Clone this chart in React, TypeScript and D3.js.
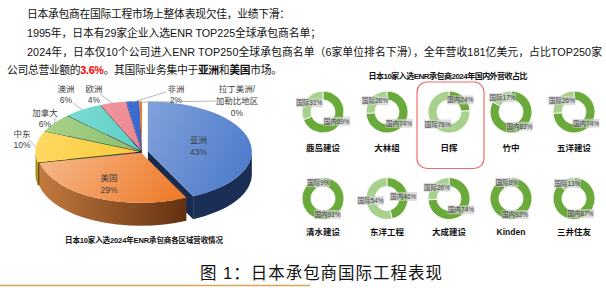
import React from 'react';
import * as d3 from 'd3';

// ---------- data ----------
const regionNames = ['亚洲', '美国', '中东', '加拿大', '澳洲', '欧洲', '非洲', '拉丁美洲/加勒比地区'];
const regionShares = [43, 29, 10, 6, 6, 4, 2, 0.4];

const companies = ['鹿岛建设', '大林组', '日挥', '竹中', '五洋建设', '清水建设', '东洋工程', '大成建设', 'Kinden', '三井住友'];
const domesticShare = [69, 74, 24, 83, 74, 91, 46, 74, 92, 87];
const internationalShare = [31, 26, 76, 17, 26, 9, 54, 26, 8, 13];
const highlightCompany = '日挥';

const pieTitle = '日本10家入选2024年ENR承包商各区域营收情况';
const donutTitle = '日本10家入选ENR承包商2024年国内外营收占比';
const caption = '图 1：日本承包商国际工程表现';

// ---------- layout / style ----------
const FONT = '"Liberation Sans", "Noto Sans CJK SC", Arial, sans-serif';
const PIE = { cx: 142, cy: 152, rx: 104, ry: 50, depth: 23 };
const explode = [6, 2, 2.5, 2.5, 2.5, 2.5, 2, 1.5];
const topColors = [
  ['#a9c0ea', '#4a78c8'],
  ['#f8c9a4', '#ee7d2e'],
  ['#ffdc6a', '#f2b705'],
  ['#acd490', '#6aa843'],
  ['#84e2da', '#33b5aa'],
  ['#f5a8b0', '#e2606e'],
  ['#4a7be0', '#2450b8'],
  ['#f58a3c', '#e86a1a'],
];
const topGradEnd = [1, 0.25, 1, 1, 1, 1, 1, 1];
const wallColors = [
  ['#2f4c84', '#1b2f56'],
  ['#c47a40', '#5e2d0e'],
  ['#a88a10', '#6e5a00'],
  ['#4d7a2e', '#3a5e22'],
  ['#238079', '#1a605b'],
  ['#a3404c', '#7a2c36'],
  ['#1a3a80', '#132c60'],
  ['#a04a10', '#80380a'],
];
const labelLayout: any[] = [
  { inside: true, frac: 0.5 },
  { inside: true, frac: 0.7 },
  { x: 22, y: 134, from: [29, 140] },
  { x: 45, y: 113, from: [55, 118] },
  { x: 66, y: 89, from: [73, 103] },
  { x: 94, y: 89, from: [100, 94] },
  { x: 176, y: 89, from: [166, 92] },
  { x: 237, y: 89, from: [216, 101] },
];

const donutXs = [323, 387, 449, 511, 574];
const donutRowY = [112, 198.5];
const donutLabelY = [148, 232];
const R_OUT = 21;
const R_IN = 12;
const DOM_COLOR = '#6aaa3b';
const INTL_COLOR = '#a9d18e';

function pt(a: number, dx: number, dy: number, z = 0): [number, number] {
  return [PIE.cx + dx + PIE.rx * Math.sin(a), PIE.cy + dy - PIE.ry * Math.cos(a) + z];
}
const f = (p: [number, number]) => `${p[0].toFixed(2)},${p[1].toFixed(2)}`;

export default function App() {
  const pie = d3.pie<number>().sort(null).value((d) => d).startAngle(0).endAngle(2 * Math.PI);
  const arcs = pie(regionShares);
  const total = d3.sum(regionShares);
  const { rx, ry, depth } = PIE;

  const slices = arcs.map((a, i) => {
    const mid = (a.startAngle + a.endAngle) / 2;
    const dx = explode[i] * Math.sin(mid);
    const dy = (-explode[i] * Math.cos(mid) * ry) / rx;
    return { a0: a.startAngle, a1: a.endAngle, mid, dx, dy, i };
  });

  const cutFaces: JSX.Element[] = [];
  const walls: JSX.Element[] = [];
  const tops: JSX.Element[] = [];

  slices.forEach((s) => {
    const c: [number, number] = [PIE.cx + s.dx, PIE.cy + s.dy];
    const cd: [number, number] = [c[0], c[1] + depth];
    const faceColor = d3.color(wallColors[s.i][1])!.darker(0.3).formatHex();
    if (Math.sin(s.a1) > 0.01) {
      const p = pt(s.a1, s.dx, s.dy);
      const pd = pt(s.a1, s.dx, s.dy, depth);
      cutFaces.push(<path key={`ce${s.i}`} d={`M${f(c)}L${f(p)}L${f(pd)}L${f(cd)}Z`} fill={faceColor} />);
    }
    if (-Math.sin(s.a0) > 0.01) {
      const p = pt(s.a0, s.dx, s.dy);
      const pd = pt(s.a0, s.dx, s.dy, depth);
      cutFaces.push(<path key={`cs${s.i}`} d={`M${f(c)}L${f(p)}L${f(pd)}L${f(cd)}Z`} fill={faceColor} />);
    }
    const st = Math.max(s.a0, Math.PI / 2);
    const en = Math.min(s.a1, (3 * Math.PI) / 2);
    if (en > st) {
      const large = en - st > Math.PI ? 1 : 0;
      const p1 = pt(st, s.dx, s.dy);
      const p2 = pt(en, s.dx, s.dy);
      const p2d = pt(en, s.dx, s.dy, depth);
      const p1d = pt(st, s.dx, s.dy, depth);
      walls.push(
        <path
          key={`w${s.i}`}
          d={`M${f(p1)}A${rx},${ry} 0 ${large} 1 ${f(p2)}L${f(p2d)}A${rx},${ry} 0 ${large} 0 ${f(p1d)}Z`}
          fill={`url(#wall${s.i})`}
        />
      );
    }
    const large = s.a1 - s.a0 > Math.PI ? 1 : 0;
    tops.push(
      <path
        key={`t${s.i}`}
        d={`M${f(c)}L${f(pt(s.a0, s.dx, s.dy))}A${rx},${ry} 0 ${large} 1 ${f(pt(s.a1, s.dx, s.dy))}Z`}
        fill={`url(#top${s.i})`}
      />
    );
  });

  const labels = slices.map((s) => {
    const L = labelLayout[s.i];
    const pct = `${Math.round((regionShares[s.i] / total) * 100)}%`;
    const nameLines = regionNames[s.i].split(/(?<=\/)/);
    const lines = [...nameLines, pct];
    if (L.inside) {
      const x = PIE.cx + s.dx + rx * L.frac * Math.sin(s.mid);
      const y = PIE.cy + s.dy - ry * L.frac * Math.cos(s.mid);
      return (
        <g key={`l${s.i}`}>
          {lines.map((t, k) => (
            <text key={k} x={x} y={y - 6 + k * 12} textAnchor="middle" dominantBaseline="central" fontSize={8.5} fill="#404040" fontFamily={FONT}>
              {t}
            </text>
          ))}
        </g>
      );
    }
    const to = pt(s.mid, s.dx, s.dy);
    const gap = lines.length === 3 ? [0, 12, 24] : [0, 11];
    return (
      <g key={`l${s.i}`}>
        <line x1={L.from[0]} y1={L.from[1]} x2={to[0]} y2={to[1] + 1} stroke="#a6a6a6" strokeWidth={0.8} />
        {lines.map((t, k) => (
          <text key={k} x={L.x} y={L.y + gap[k]} textAnchor="middle" dominantBaseline="central" fontSize={8.5} fill="#404040" fontFamily={FONT}>
            {t}
          </text>
        ))}
      </g>
    );
  });

  // donuts
  const dpie = d3.pie<number>().sort(null).value((d) => d).startAngle(0).endAngle(2 * Math.PI);
  const darc = d3.arc<d3.PieArcDatum<number>>().innerRadius(R_IN).outerRadius(R_OUT);
  const labelArc = d3.arc<d3.PieArcDatum<number>>().innerRadius((R_IN + R_OUT) / 2).outerRadius((R_IN + R_OUT) / 2);
  const DFS = 6.5;

  const donuts = companies.map((name, i) => {
    const cx = donutXs[i % 5];
    const row = Math.floor(i / 5);
    const cy = donutRowY[row];
    const vals = [domesticShare[i], internationalShare[i]];
    const parts = dpie(vals);
    const tags = ['国内', '国际'];
    return (
      <g key={name}>
        <g transform={`translate(${cx},${cy})`}>
          {parts.map((p, k) => (
            <path key={k} d={darc(p) || ''} fill={k === 0 ? DOM_COLOR : INTL_COLOR} stroke="#fff" strokeWidth={0.8} />
          ))}
          {parts.map((p, k) => {
            const [lx, ly] = labelArc.centroid(p);
            const txt = `${tags[k]}${vals[k]}%`;
            const digits = String(vals[k]).length;
            const w = DFS * (2 + 0.556 * digits + 0.889) + 1;
            return (
              <g key={`t${k}`}>
                <rect x={lx - w / 2} y={ly - 4.5} width={w} height={9} fill="#d0d0d0" opacity={0.7} />
                <text x={lx} y={ly} textAnchor="middle" dominantBaseline="central" fontSize={DFS} fill="#404040" fontFamily={FONT}>
                  {txt}
                </text>
              </g>
            );
          })}
        </g>
        <text x={cx} y={donutLabelY[row]} textAnchor="middle" dominantBaseline="central" fontSize={8.5} fontWeight="bold" fill="#111" fontFamily={FONT}>
          {name}
        </text>
        {name === highlightCompany && (
          <rect x={cx - 32} y={82} width={67} height={86.5} rx={10} ry={10} fill="none" stroke="#f26a6a" strokeWidth={1.2} />
        )}
      </g>
    );
  });

  return (
    <svg width={606} height={288} style={{ position: 'absolute', left: 0, top: 0, background: '#fff' }} fontFamily={FONT}>
      <defs>
        {topColors.map((c, i) => (
          <linearGradient key={i} id={`top${i}`} gradientUnits="userSpaceOnUse" x1={PIE.cx - rx} y1={PIE.cy - ry} x2={PIE.cx + rx * topGradEnd[i]} y2={PIE.cy + ry}>
            <stop offset="0" stopColor={c[0]} />
            <stop offset="1" stopColor={c[1]} />
          </linearGradient>
        ))}
        {wallColors.map((c, i) => (
          <linearGradient key={i} id={`wall${i}`} gradientUnits="userSpaceOnUse" x1={PIE.cx - rx} y1={0} x2={PIE.cx + rx * 0.5} y2={0}>
            <stop offset="0" stopColor={c[0]} />
            <stop offset="1" stopColor={c[1]} />
          </linearGradient>
        ))}
      </defs>

      {/* intro text */}
      <g fontSize={10.8} fill="#111">
        <text x={27} y={18} textLength={263} lengthAdjust="spacing">日本承包商在国际工程市场上整体表现欠佳，业绩下滑：</text>
        <text x={27} y={37} textLength={294} lengthAdjust="spacing">1995年，日本有29家企业入选ENR TOP225全球承包商名单；</text>
        <text x={27} y={56} textLength={575} lengthAdjust="spacing">2024年，日本仅10个公司进入ENR TOP250全球承包商名单（6家单位排名下滑），全年营收181亿美元，占比TOP250家</text>
        <text x={7} y={74} textLength={275} lengthAdjust="spacing">
          公司总营业额的
          <tspan fill="#ff0000" fontWeight="bold">3.6%</tspan>
          。其国际业务集中于
          <tspan fontWeight="bold">亚洲</tspan>和<tspan fontWeight="bold">美国</tspan>市场。
        </text>
      </g>

      {/* 3D pie */}
      <g>
        {cutFaces}
        {walls}
        {tops}
        {labels}
      </g>
      <text x={144} y={240} textAnchor="middle" dominantBaseline="central" fontSize={7.5} fontWeight="bold" fill="#111" textLength={158} lengthAdjust="spacing">
        {pieTitle}
      </text>

      {/* donuts */}
      <text x={448} y={76} textAnchor="middle" dominantBaseline="central" fontSize={8} fontWeight="bold" fill="#111" textLength={159} lengthAdjust="spacing">
        {donutTitle}
      </text>
      {donuts}

      {/* caption */}
      <text x={200} y={279} fontSize={16.5} fill="#111" textLength={242} lengthAdjust="spacing">
        {caption}
      </text>
      <line x1={0} x2={310} y1={285.5} y2={285.5} stroke="#d9a55b" strokeWidth={1.5} />
    </svg>
  );
}
